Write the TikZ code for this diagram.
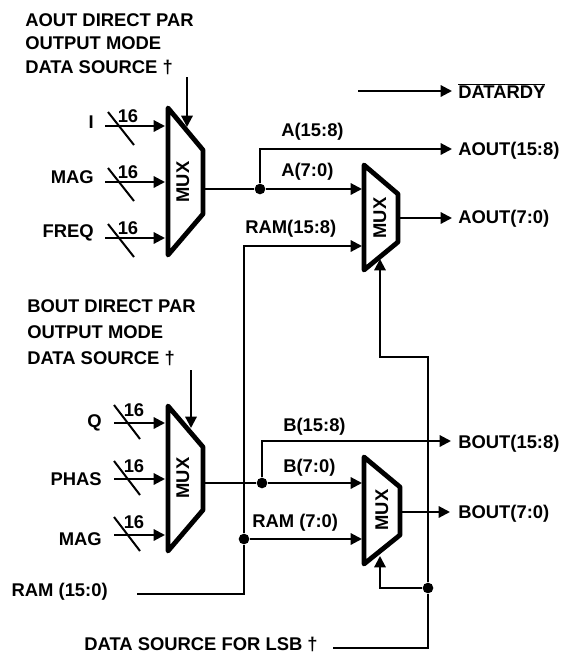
\documentclass[tikz,border=0pt]{standalone}
\usepackage{fontspec}
\setmainfont{Liberation Sans}
\usepackage{tikz}
\usetikzlibrary{arrows.meta,positioning}
\tikzstyle{etiqueta} = [font=\fontsize{13.8}{15}\selectfont\bfseries, inner sep=0pt]
\tikzstyle{muxtitle} = [etiqueta, rotate=90]
\tikzstyle{linea} = [line width=1.6pt, line join=miter]
\tikzstyle{flecha} = [linea, -{Triangle[length=8.5pt,width=8.5pt]}]
\tikzstyle{muxbox} = [line width=3.6pt, line join=round, line cap=round]
\tikzstyle{corte} = [line width=1.5pt]
\tikzstyle{union} = [circle, fill=black, inner sep=0pt, minimum size=8pt]
\begin{document}
\begin{tikzpicture}[x=0.75pt,y=-0.75pt]
	\useasboundingbox (0,0) rectangle (564,654);
	% muxes
	\draw[muxbox] (168,108) -- (203,150) -- (203,214) -- (168,255) -- cycle;
	\draw[muxbox] (364,165) -- (398,194) -- (398,242) -- (364,270) -- cycle;
	\draw[muxbox] (168,406) -- (203,447) -- (203,510) -- (168,551) -- cycle;
	\draw[muxbox] (364,457) -- (400,487) -- (400,535) -- (364,564) -- cycle;
	\node[muxtitle] (muxatxt) at (183,182) {MUX};
	\node[muxtitle] (muxbtxt) at (183,478) {MUX};
	\node[muxtitle] (muxctxt) at (380,218) {MUX};
	\node[muxtitle] (muxdtxt) at (382,510) {MUX};
	% upper texts
	\node[etiqueta, anchor=west] (atit1) at (25,20) {AOUT DIRECT PAR};
	\node[etiqueta, anchor=west] (atit2) at (25,43) {OUTPUT MODE};
	\node[etiqueta, anchor=west] (atit3) at (25,67) {DATA SOURCE †};
	\node[etiqueta, anchor=east] (ini) at (94,122) {I};
	\node[etiqueta, anchor=east] (inmaga) at (94,177) {MAG};
	\node[etiqueta, anchor=east] (infreq) at (94,233) {FREQ};
	\node[etiqueta] (na1) at (128,116) {16};
	\node[etiqueta] (na2) at (128,172) {16};
	\node[etiqueta] (na3) at (128,228) {16};
	% lower texts
	\node[etiqueta, anchor=west] (btit1) at (27,306) {BOUT DIRECT PAR};
	\node[etiqueta, anchor=west] (btit2) at (27,332) {OUTPUT MODE};
	\node[etiqueta, anchor=west] (btit3) at (27,358) {DATA SOURCE †};
	\node[etiqueta, anchor=east] (inq) at (102,423) {Q};
	\node[etiqueta, anchor=east] (inphas) at (102,479) {PHAS};
	\node[etiqueta, anchor=east] (inmagb) at (102,539) {MAG};
	\node[etiqueta] (nb1) at (134,410) {16};
	\node[etiqueta] (nb2) at (134,466) {16};
	\node[etiqueta] (nb3) at (134,522) {16};
	\node[etiqueta, anchor=east] (ram) at (108,592) {RAM (15:0)};
	\node[etiqueta, anchor=east] (lsb) at (318,644) {DATA SOURCE FOR LSB †};
	% signal names
	\node[etiqueta, anchor=west] (lab1) at (281,132) {A(15:8)};
	\node[etiqueta, anchor=west] (lab2) at (281,172) {A(7:0)};
	\node[etiqueta, anchor=west] (lab3) at (245,229) {RAM(15:8)};
	\node[etiqueta, anchor=west] (lab4) at (283,427) {B(15:8)};
	\node[etiqueta, anchor=west] (lab5) at (283,468) {B(7:0)};
	\node[etiqueta, anchor=west] (lab6) at (252,523) {RAM (7:0)};
	% outputs
	\node[etiqueta, anchor=west] (rdy) at (458,91) {$\overline{\mbox{DATARDY}}$};
	\node[etiqueta, anchor=west] (aouth) at (458,151) {AOUT(15:8)};
	\node[etiqueta, anchor=west] (aoutl) at (458,219) {AOUT(7:0)};
	\node[etiqueta, anchor=west] (bouth) at (458,444) {BOUT(15:8)};
	\node[etiqueta, anchor=west] (boutl) at (458,514) {BOUT(7:0)};
	% junctions
	\node[union] (ja) at (260,189) {};
	\node[union] (jb) at (262,483) {};
	\node[union] (jram) at (244,539) {};
	\node[union] (jlsb) at (428,588) {};
	% ends of the inputs
	\coordinate (pa1) at (105,126); \coordinate (ma1) at (165,126);
	\coordinate (pa2) at (105,182); \coordinate (ma2) at (165,182);
	\coordinate (pa3) at (105,238); \coordinate (ma3) at (165,238);
	\coordinate (pb1) at (114,423); \coordinate (mb1) at (165,423);
	\coordinate (pb2) at (114,479); \coordinate (mb2) at (165,479);
	\coordinate (pb3) at (114,535); \coordinate (mb3) at (165,535);
	\coordinate (sela) at (187,77); \coordinate (selaf) at (187,127);
	\coordinate (selb) at (191,370); \coordinate (selbf) at (191,428);
	% other free ends
	\coordinate (oa) at (204,189); \coordinate (ob) at (204,483);
	\coordinate (oc) at (399,218); \coordinate (od) at (401,512);
	\coordinate (mc1) at (362,189); \coordinate (mc2) at (362,246);
	\coordinate (md1) at (362,483); \coordinate (md2) at (362,539);
	\coordinate (rdy0) at (358,91); \coordinate (rdy1) at (452,91);
	\coordinate (ah) at (452,149); \coordinate (al) at (452,218);
	\coordinate (bh) at (451,441); \coordinate (bl) at (450,512);
	\coordinate (ram0) at (137,594); \coordinate (lsb0) at (333,648);
	\coordinate (selc) at (380,259); \coordinate (seld) at (380,556);
	% inputs
	\draw[flecha] (pa1) -- (ma1);
	\draw[flecha] (pa2) -- (ma2);
	\draw[flecha] (pa3) -- (ma3);
	\draw[corte] (108,112) -- (134,145);
	\draw[corte] (108,168) -- (134,201);
	\draw[corte] (108,224) -- (134,257);
	\draw[flecha] (pb1) -- (mb1);
	\draw[flecha] (pb2) -- (mb2);
	\draw[flecha] (pb3) -- (mb3);
	\draw[corte] (114,405) -- (140,439);
	\draw[corte] (114,461) -- (140,495);
	\draw[corte] (114,517) -- (140,551);
	\draw[flecha] (sela) -- (selaf);
	\draw[flecha] (selb) -- (selbf);
	% upper paths
	\draw[linea] (oa) -- (ja);
	\draw[flecha] (ja) -- (mc1);
	\draw[flecha] (ja) |- (ah);
	\draw[flecha] (rdy0) -- (rdy1);
	\draw[flecha] (oc) -- (al);
	\draw[flecha] (jram) |- (mc2);
	% lower paths
	\draw[linea] (ob) -- (jb);
	\draw[flecha] (jb) -- (md1);
	\draw[flecha] (jb) |- (bh);
	\draw[flecha] (od) -- (bl);
	\draw[flecha] (jram) -- (md2);
	\draw[linea] (ram0) -| (jram);
	\draw[linea] (lsb0) -| (jlsb);
	\draw[flecha] (jlsb) -| (seld);
	\draw[flecha] (jlsb) |- (380,357) -- (selc);
\end{tikzpicture}
\end{document}
